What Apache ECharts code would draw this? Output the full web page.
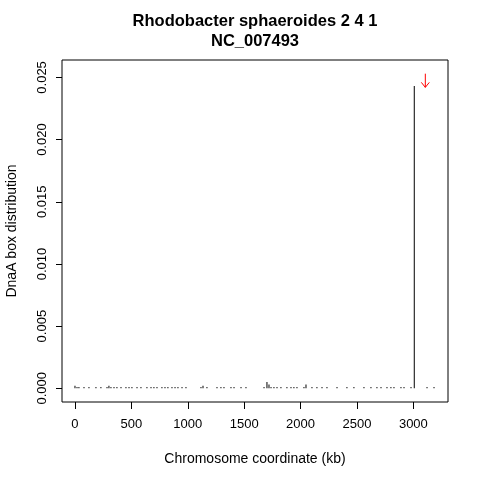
<!DOCTYPE html>
<html>
<head>
<meta charset="utf-8">
<script src="https://cdn.jsdelivr.net/npm/echarts@6/dist/echarts.min.js"></script>
<style>html,body{margin:0;padding:0;background:#fff}#c{width:480px;height:480px}</style>
</head>
<body>
<div id="c"></div>
<script>
const titleLine1 = 'Rhodobacter sphaeroides 2 4 1';
const titleLine2 = 'NC_007493';
const xName = 'Chromosome coordinate (kb)';
const yName = 'DnaA box distribution';
const xTicks = [0, 500, 1000, 1500, 2000, 2500, 3000];
const yTicks = [0, 0.005, 0.010, 0.015, 0.020, 0.025];
const positions = [0, 18, 35, 80, 124, 186, 230, 284, 301, 319, 346, 372, 408, 452, 479, 505, 550, 585, 638, 674, 700, 727, 771, 798, 824, 860, 887, 913, 949, 984, 1117, 1135, 1170, 1259, 1294, 1321, 1383, 1410, 1472, 1516, 1676, 1702, 1720, 1738, 1764, 1791, 1826, 1879, 1915, 1941, 1968, 2030, 2048, 2101, 2145, 2190, 2234, 2323, 2411, 2473, 2562, 2624, 2677, 2713, 2766, 2801, 2828, 2890, 2917, 2979, 3008, 3121, 3183];
const values = [0.0002, 0.0001, 0.0001, 0.0001, 0.0001, 0.0001, 0.0001, 0.0001, 0.0002, 0.0001, 0.0001, 0.0001, 0.0001, 0.0001, 0.0001, 0.0001, 0.0001, 0.0001, 0.0001, 0.0001, 0.0001, 0.0001, 0.0001, 0.0001, 0.0001, 0.0001, 0.0001, 0.0001, 0.0001, 0.0001, 0.0001, 0.0002, 0.0001, 0.0001, 0.0001, 0.0001, 0.0001, 0.0001, 0.0001, 0.0001, 0.0001, 0.0005, 0.0003, 0.0001, 0.0001, 0.0001, 0.0001, 0.0001, 0.0001, 0.0001, 0.0001, 0.0001, 0.0003, 0.0001, 0.0001, 0.0001, 0.0001, 0.0001, 0.0001, 0.0001, 0.0001, 0.0001, 0.0001, 0.0001, 0.0001, 0.0001, 0.0001, 0.0001, 0.0001, 0.0001, 0.0243, 0.0001, 0.0001];
const arrowX = [3106];
const arrowFrom = [0.0253];
const arrowTo = [0.0242];

const font = 'Liberation Sans, Arial, Helvetica, sans-serif';
const chart = echarts.init(document.getElementById('c'), null, {renderer: 'canvas'});
const barData = positions.map((p, i) => [p, values[i]]);
const arrowData = arrowX.map((x, i) => [x, arrowFrom[i], arrowTo[i]]);

chart.setOption({
  animation: false,
  backgroundColor: '#fff',
  graphic: [
    {type: 'text', x: 255, y: 21, style: {text: titleLine1, font: 'bold 16.5px ' + font, fill: '#000', textAlign: 'center', textVerticalAlign: 'middle'}},
    {type: 'text', x: 255, y: 41, style: {text: titleLine2, font: 'bold 16.5px ' + font, fill: '#000', textAlign: 'center', textVerticalAlign: 'middle'}}
  ],
  grid: {left: 62, right: 32, top: 60, bottom: 78, show: true, borderColor: '#000', borderWidth: 1, backgroundColor: 'transparent', containLabel: false, outerBoundsMode: 'none'},
  xAxis: {
    type: 'value', min: -115, max: 3307,
    name: xName, nameLocation: 'middle', nameGap: 50,
    nameTextStyle: {fontFamily: font, fontSize: 14, color: '#000'},
    axisLine: {show: false, onZero: false},
    splitLine: {show: false},
    axisTick: {show: true, length: 7, customValues: xTicks, lineStyle: {color: '#000'}},
    axisLabel: {customValues: xTicks, fontFamily: font, fontSize: 13, color: '#000', margin: 16,
      formatter: v => String(v)}
  },
  yAxis: {
    type: 'value', min: -0.0011, max: 0.0264,
    name: yName, nameLocation: 'middle', nameGap: 43,
    nameTextStyle: {fontFamily: font, fontSize: 14, color: '#000'},
    axisLine: {show: false, onZero: false},
    splitLine: {show: false},
    axisTick: {show: true, length: 6, customValues: yTicks, lineStyle: {color: '#000'}},
    axisLabel: {customValues: yTicks, rotate: 90, fontFamily: font, fontSize: 13, color: '#000', margin: 13,
      formatter: v => v.toFixed(3)}
  },
  series: [
    {type: 'bar', data: barData, barWidth: 1, itemStyle: {color: '#000'}, silent: true},
    {type: 'custom', data: arrowData, silent: true,
      renderItem: function (params, api) {
        const a = api.coord([api.value(0), api.value(1)]);
        const b = api.coord([api.value(0), api.value(2)]);
        return {type: 'group', children: [
          {type: 'line', shape: {x1: a[0], y1: a[1], x2: b[0], y2: b[1]}, style: {stroke: '#ff0000', lineWidth: 1}},
          {type: 'polyline', shape: {points: [[b[0] - 4, b[1] - 5], [b[0], b[1]], [b[0] + 4, b[1] - 5]]}, style: {stroke: '#ff0000', lineWidth: 1, fill: null}}
        ]};
      }}
  ]
});
</script>
</body>
</html>
